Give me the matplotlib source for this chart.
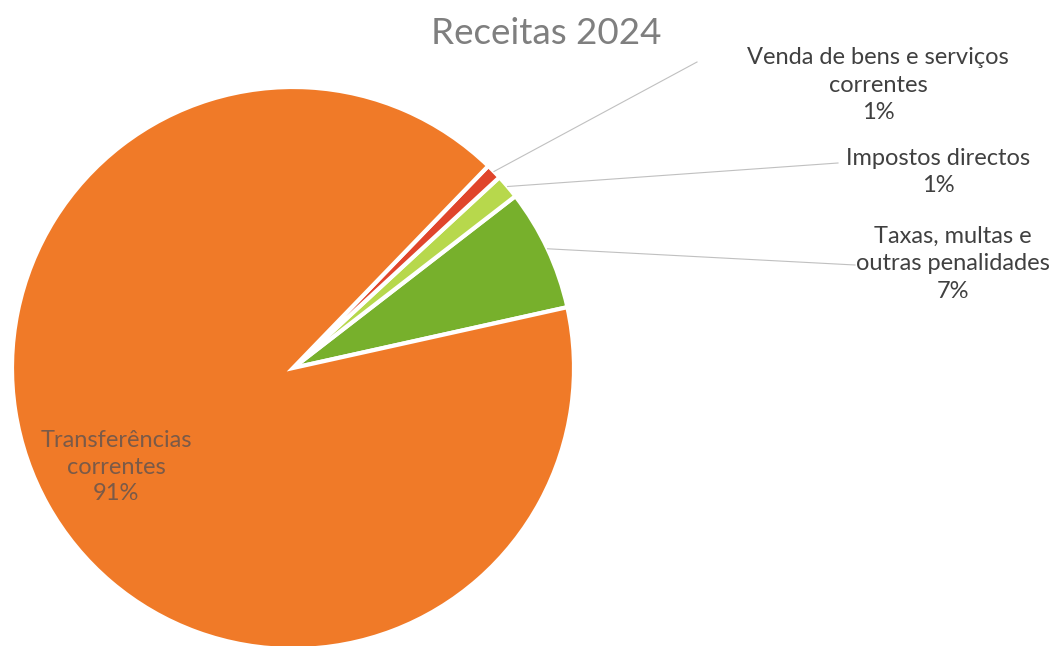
import numpy as np
import matplotlib
matplotlib.use("Agg")
import matplotlib.pyplot as plt

categories = ["Taxas, multas e\noutras penalidades", "Impostos directos",
              "Venda de bens e serviços\ncorrentes", "Transferências\ncorrentes"]
values = [7.0, 1.4, 0.9, 90.7]
colors = ["#77B02C", "#B7D84C", "#E0452B", "#F07A28"]
title = "Receitas 2024"

W, H = 1059, 646
fig = plt.figure(figsize=(W / 100, H / 100), dpi=100)
ax = fig.add_axes([0, 0, 1, 1])

cx, cy, r = 293, H - 368, 281
explode = [0.07, 0.07, 0.07, 0.0]
wedges, _ = ax.pie(values, colors=colors, startangle=12.5, counterclock=True,
                   center=(cx, cy), radius=r, explode=explode,
                   wedgeprops=dict(edgecolor="white", linewidth=3),
                   frame=True)
ax.set_xlim(0, W)
ax.set_ylim(0, H)
ax.set_aspect("equal")
ax.axis("off")

font = "Lato"
fs = 17
pct = [f"{round(v):.0f}%" for v in values]

# external labels (text positions are layout)
text_pos = [(953, H - 264), (938, H - 172), (878, H - 85)]
line_end = [(855, H - 265), (838, H - 163), (697, H - 62)]
for i in range(3):
    w = wedges[i]
    ang = np.deg2rad((w.theta1 + w.theta2) / 2)
    wx, wy = w.center
    ax_, ay_ = wx + w.r * np.cos(ang), wy + w.r * np.sin(ang)
    ax.plot([ax_, line_end[i][0]], [ay_, line_end[i][1]], color="#c0c0c0", lw=0.8)
    ax.text(text_pos[i][0], text_pos[i][1], categories[i] + "\n" + pct[i],
            ha="center", va="center", fontsize=fs, family=font,
            color="#404040", linespacing=1.38)

# inner label
ax.text(116, H - 467, categories[3] + "\n" + pct[3], ha="center", va="center",
        fontsize=17, family=font, color="#7a5a48", linespacing=1.3)

ax.text(546, H - 33, title, ha="center", va="center", fontsize=26.5,
        family=font, color="#7f7f7f")

fig.savefig("out.png", dpi=100, facecolor="white")
